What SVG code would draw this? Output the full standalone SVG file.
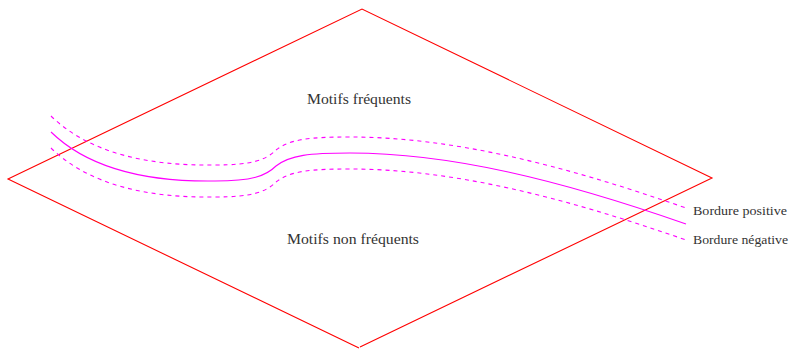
<svg xmlns="http://www.w3.org/2000/svg" width="791" height="349" viewBox="0 0 791 349">
<style>
.edge{fill:none;stroke:#ff0000;stroke-width:1.1}
.b{fill:none;stroke:#ff00ff;stroke-width:1.1}
.d{stroke-dasharray:4 4}
.t{font-family:"Liberation Serif","DejaVu Serif",serif;fill:#333}
.lg{font-size:14px}
.sm{font-size:12.5px}
</style>
<defs>
<path id="curve" d="M51,132 C90,170 150,182 215,181 C252,181 266,176 276,166 C290,155 310,153 350,153 C450,153 560,180 686,224"/>
</defs>
<g id="region">
<polyline class="edge" points="359,348 8,179 362,9 712,178 360,347"/>
</g>
<g id="connectors">
<use href="#curve" class="b"/>
<use href="#curve" class="b d" transform="translate(0,-16)"/>
<use href="#curve" class="b d" transform="translate(0,16)"/>
</g>
<g id="frequent"><text class="t lg" x="307" y="104" textLength="104" lengthAdjust="spacingAndGlyphs">Motifs fréquents</text></g>
<g id="infrequent"><text class="t lg" x="287" y="244" textLength="132" lengthAdjust="spacingAndGlyphs">Motifs non fréquents</text></g>
<g id="pos"><text class="t sm" x="693" y="215" textLength="94" lengthAdjust="spacingAndGlyphs">Bordure positive</text></g>
<g id="neg"><text class="t sm" x="693" y="244" textLength="95" lengthAdjust="spacingAndGlyphs">Bordure négative</text></g>
</svg>
